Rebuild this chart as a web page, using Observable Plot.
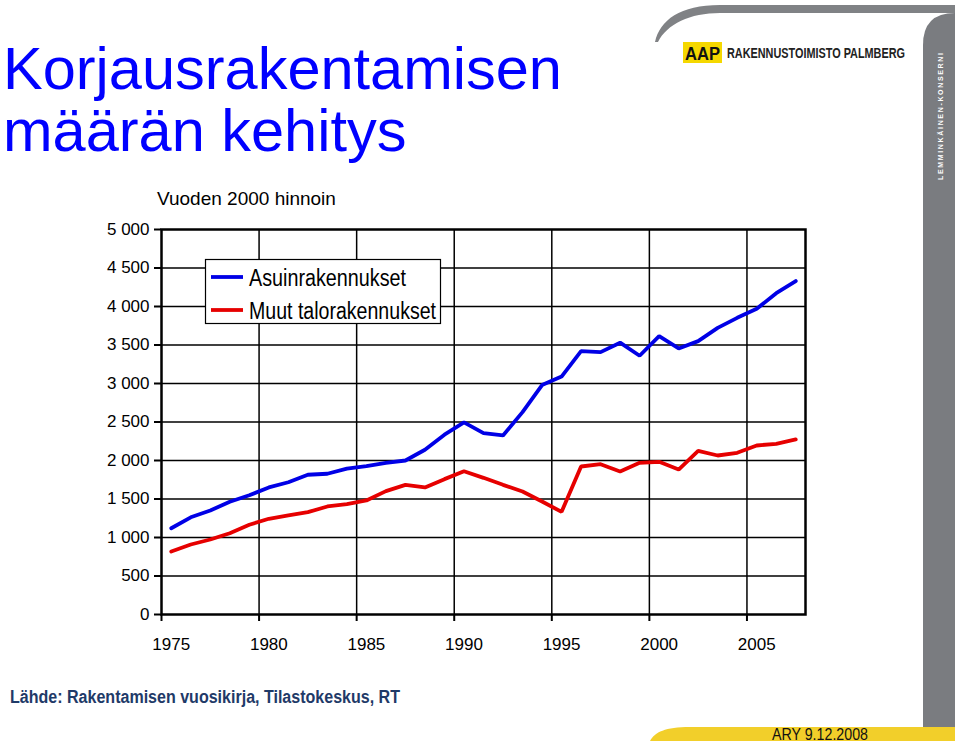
<!DOCTYPE html>
<html><head><meta charset="utf-8">
<script src="https://cdn.jsdelivr.net/npm/d3@7"></script>
<script src="https://cdn.jsdelivr.net/npm/@observablehq/plot@0.6"></script>
<style>
body{margin:0;background:#fff;}
#wrap{position:relative;width:960px;height:741px;overflow:hidden;font-family:"Liberation Sans",Arial,sans-serif;background:#fff;}
#wrap > svg{position:absolute;left:0;top:0;}
</style></head><body><div id="wrap"></div>
<script>
const years = [1975,1976,1977,1978,1979,1980,1981,1982,1983,1984,1985,1986,1987,1988,1989,1990,1991,1992,1993,1994,1995,1996,1997,1998,1999,2000,2001,2002,2003,2004,2005,2006,2007];
const asuinrakennukset = [1120,1262,1350,1465,1548,1650,1718,1815,1828,1895,1926,1970,2000,2140,2335,2495,2355,2325,2628,2980,3090,3420,3407,3530,3360,3615,3455,3550,3723,3853,3970,4173,4330];
const muutTalorakennukset = [818,909,974,1056,1165,1243,1286,1329,1403,1433,1481,1602,1684,1650,1758,1860,1775,1684,1597,1467,1333,1922,1952,1857,1970,1983,1883,2126,2065,2100,2195,2217,2273];
const seriesNames = ["Asuinrakennukset","Muut talorakennukset"];
const yTicks = [0,500,1000,1500,2000,2500,3000,3500,4000,4500,5000];
const xLabels = [1975,1980,1985,1990,1995,2000,2005];
const xBoundaries = [1974.5,1979.5,1984.5,1989.5,1994.5,1999.5,2004.5];

const data = [
  ...years.map((y,i)=>({year:y, value:asuinrakennukset[i], series:seriesNames[0]})),
  ...years.map((y,i)=>({year:y, value:muutTalorakennukset[i], series:seriesNames[1]}))
];
const fmt = d => d3.format(",")(d).replace(/,/g," ");

const chart = Plot.plot({
  width:960, height:741,
  marginLeft:161, marginRight:155, marginTop:229, marginBottom:127,
  style:{fontFamily:"Liberation Sans, Arial, sans-serif", fontSize:"17px", color:"#000", background:"transparent", overflow:"visible"},
  x:{domain:[1974.5,2007.5], label:null},
  y:{domain:[0,5000], label:null},
  color:{domain:seriesNames, range:["#0000e6","#e60000"]},
  marks:[
    Plot.ruleY(yTicks.filter(d=>d>0 && d<5000), {stroke:"#000", strokeWidth:1.5}),
    Plot.ruleX(xBoundaries.slice(1), {stroke:"#000", strokeWidth:1.5}),
    Plot.line(data, {x:"year", y:"value", z:"series", stroke:"series", strokeWidth:3.8, strokeLinejoin:"miter"}),
    Plot.frame({stroke:"#000", strokeWidth:2.5}),
    Plot.axisY({ticks:yTicks, tickSize:7, tickPadding:5, tickFormat:fmt, strokeWidth:2}),
    Plot.axisX({ticks:xBoundaries, tickSize:7, tickFormat:()=>"", strokeWidth:2}),
    Plot.axisX({ticks:xLabels, tickSize:0, tickPadding:23, tickFormat:d=>String(d)})
  ]
});
const wrap = document.getElementById("wrap");
wrap.appendChild(chart);

const ns = "http://www.w3.org/2000/svg";
const ov = document.createElementNS(ns,"svg");
ov.setAttribute("width",960); ov.setAttribute("height",741);
ov.style.pointerEvents="none";
ov.innerHTML = `
  <path d="M655,42 C660,20 680,5 720,5 L955,5 L955,13 L720,13 C690,13 667,24 658,42 Z" fill="#808285"/>
  <path d="M923,727 L923,45 Q923,13 955,13 L955,727 Z" fill="#7a7c80"/>
  <text transform="translate(943,180) rotate(-90)" font-size="7" font-weight="bold" fill="#fff" textLength="127" lengthAdjust="spacing" font-family="Liberation Sans, Arial">LEMMINKÄINEN-KONSERNI</text>
  <path d="M650,741 C655,732 665,727 690,727 L955,727 L955,741 Z" fill="#f2cf2a"/>
  <text x="772" y="739.5" font-size="16.5" fill="#111" textLength="96" lengthAdjust="spacingAndGlyphs">ARY 9.12.2008</text>
  <rect x="683" y="42" width="39" height="21" fill="#f5d800"/>
  <text x="702.5" y="59.5" text-anchor="middle" font-size="19" font-weight="bold" fill="#111" textLength="35" lengthAdjust="spacingAndGlyphs">AAP</text>
  <text x="727" y="57.5" font-size="14" font-weight="bold" fill="#222" textLength="178" lengthAdjust="spacingAndGlyphs">RAKENNUSTOIMISTO PALMBERG</text>
  <text font-size="59.5" fill="#0000ff"><tspan x="3" y="89">Korjausrakentamisen</tspan><tspan x="3" y="151">määrän kehitys</tspan></text>
  <text x="157" y="205" font-size="19" fill="#000">Vuoden 2000 hinnoin</text>
  <rect x="205.5" y="259.5" width="235" height="64" fill="#fff" stroke="#000" stroke-width="1.2"/>
  <line x1="211" x2="243" y1="277" y2="277" stroke="#0000e6" stroke-width="3.8"/>
  <line x1="211" x2="243" y1="310" y2="310" stroke="#e60000" stroke-width="3.8"/>
  <text x="249" y="286" font-size="23" fill="#000" textLength="157" lengthAdjust="spacingAndGlyphs">${seriesNames[0]}</text>
  <text x="249" y="319" font-size="23" fill="#000" textLength="187" lengthAdjust="spacingAndGlyphs">${seriesNames[1]}</text>
  <text x="10" y="703" font-size="17.5" font-weight="bold" fill="#1f3a68" textLength="390" lengthAdjust="spacingAndGlyphs">Lähde: Rakentamisen vuosikirja, Tilastokeskus, RT</text>
`;
wrap.appendChild(ov);
</script>
</body></html>
